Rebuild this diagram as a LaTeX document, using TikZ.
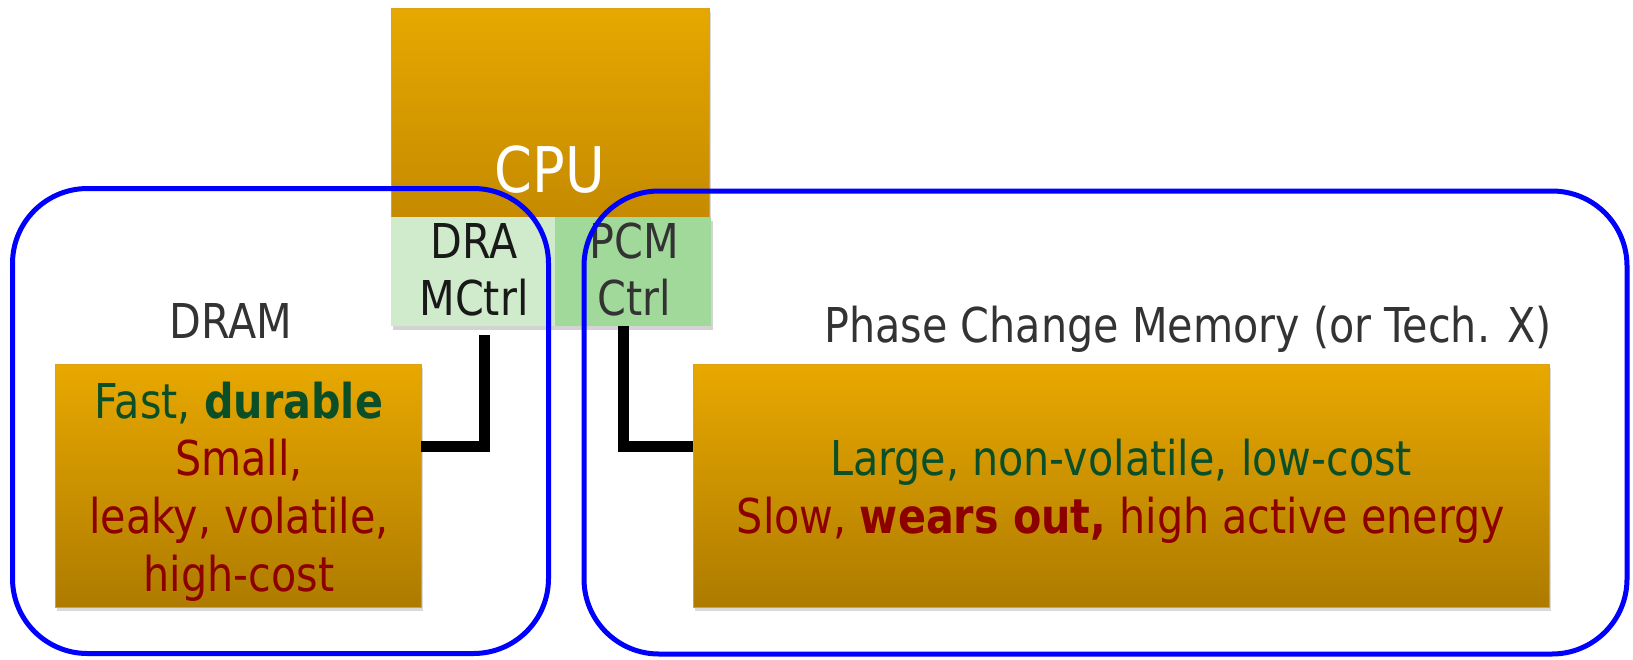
\documentclass[tikz,border=0pt]{standalone}
\usepackage{fontspec}
\setmainfont{DejaVu Sans}[FakeStretch=0.86]
\usetikzlibrary{shadows,calc}
\definecolor{cputop}{HTML}{E6A800}
\definecolor{cpubot}{HTML}{C58A00}
\definecolor{boxtop}{HTML}{E8A800}
\definecolor{boxbot}{HTML}{AE7B00}
\definecolor{boxedge}{HTML}{DDA215}
\definecolor{ctrlA}{HTML}{D0EBCB}
\definecolor{ctrlB}{HTML}{A1D99A}
\definecolor{goodgreen}{HTML}{0A4F28}
\definecolor{badred}{HTML}{8C0000}
\definecolor{labelgray}{HTML}{333333}
\definecolor{groupblue}{HTML}{0000FF}
\begin{document}
\begin{tikzpicture}[x=1pt,y=-1pt,
  every node/.style={inner sep=0pt, outer sep=0pt},
  txt/.style={font=\fontsize{48}{57}\selectfont, anchor=base},
  membox/.style={rectangle, anchor=north west, draw=boxedge, line width=1pt,
    top color=boxtop, bottom color=boxbot,
    drop shadow={opacity=0.3, shadow xshift=2pt, shadow yshift=-4pt}},
  cpubox/.style={rectangle, anchor=north west, draw=boxedge, line width=1pt,
    top color=cputop, bottom color=cpubot,
    drop shadow={opacity=0.3, shadow xshift=2pt, shadow yshift=-4pt}},
  ctrlbox/.style={rectangle, anchor=north west,
    drop shadow={opacity=0.35, shadow xshift=2pt, shadow yshift=-4pt}},
  conn/.style={line width=11pt, black},
  connshadow/.style={line width=11pt, black, opacity=0.3},
  group/.style={rectangle, draw=groupblue, line width=5pt, anchor=north west}
]
\useasboundingbox (0,0) rectangle (1633,659);

% CPU
\node[cpubox, minimum width=318pt, minimum height=210pt] (cpu) at (391,8) {};
\node[txt, text=white, font=\fontsize{63}{63}\selectfont] (cputxt) at (550,192) {CPU};

% controllers
\node[ctrlbox, fill=ctrlA, minimum width=164pt, minimum height=109pt] (dramctrl) at (391,217) {};
\node[ctrlbox, fill=ctrlB, minimum width=156pt, minimum height=109pt] (pcmctrl) at (555,217) {};
\node[txt, text=black!90] (dc1) at (474,258) {DRA};
\node[txt, text=black!90] (dc2) at (474,315) {MCtrl};
\node[txt, text=labelgray] (pc1) at (634,258) {PCM};
\node[txt, text=labelgray] (pc2) at (634,315) {Ctrl};

% labels
\node[txt, text=labelgray] (dramlbl) at (231,338) {DRAM};
\node[txt, text=labelgray, anchor=base east] (pcmlbl) at (1552,342) {Phase Change Memory (or Tech. X)};

% memory boxes
\node[membox, minimum width=366pt, minimum height=243pt] (drambox) at (55,364) {};
\node[membox, minimum width=856pt, minimum height=243pt] (pcmbox) at (693,364) {};

\node[txt, text=goodgreen] (d1) at (239,418) {Fast, \textbf{durable}};
\node[txt, text=badred] (d2) at (239,475) {Small,};
\node[txt, text=badred] (d3) at (239,533) {leaky, volatile,};
\node[txt, text=badred] (d4) at (239,591) {high-cost};

\node[txt, text=goodgreen] (p1) at (1121,475) {Large, non-volatile, low-cost};
\node[txt, text=badred] (p2) at (1121,533) {Slow, \textbf{wears out,} high active energy};

% connectors
\coordinate (lc) at (484,446);
\coordinate (rc) at (623,446);
\draw[connshadow, shift={(3,3)}] ($(dramctrl.south -| lc)+(0,9)$) -- (lc) -- (lc -| drambox.east);
\draw[connshadow, shift={(3,3)}] (pcmctrl.south -| rc) -- (rc) -- (rc -| pcmbox.west);
\draw[conn] ($(dramctrl.south -| lc)+(0,9)$) -- (lc) -- (lc -| drambox.east);
\draw[conn] (pcmctrl.south -| rc) -- (rc) -- (rc -| pcmbox.west);

% groups
\node[group, rounded corners=75pt, minimum width=536pt, minimum height=465pt] (dramgroup) at (12.5,188.5) {};
\node[group, rounded corners=75pt, minimum width=1043pt, minimum height=463pt] (pcmgroup) at (584,191) {};
\end{tikzpicture}
\end{document}
